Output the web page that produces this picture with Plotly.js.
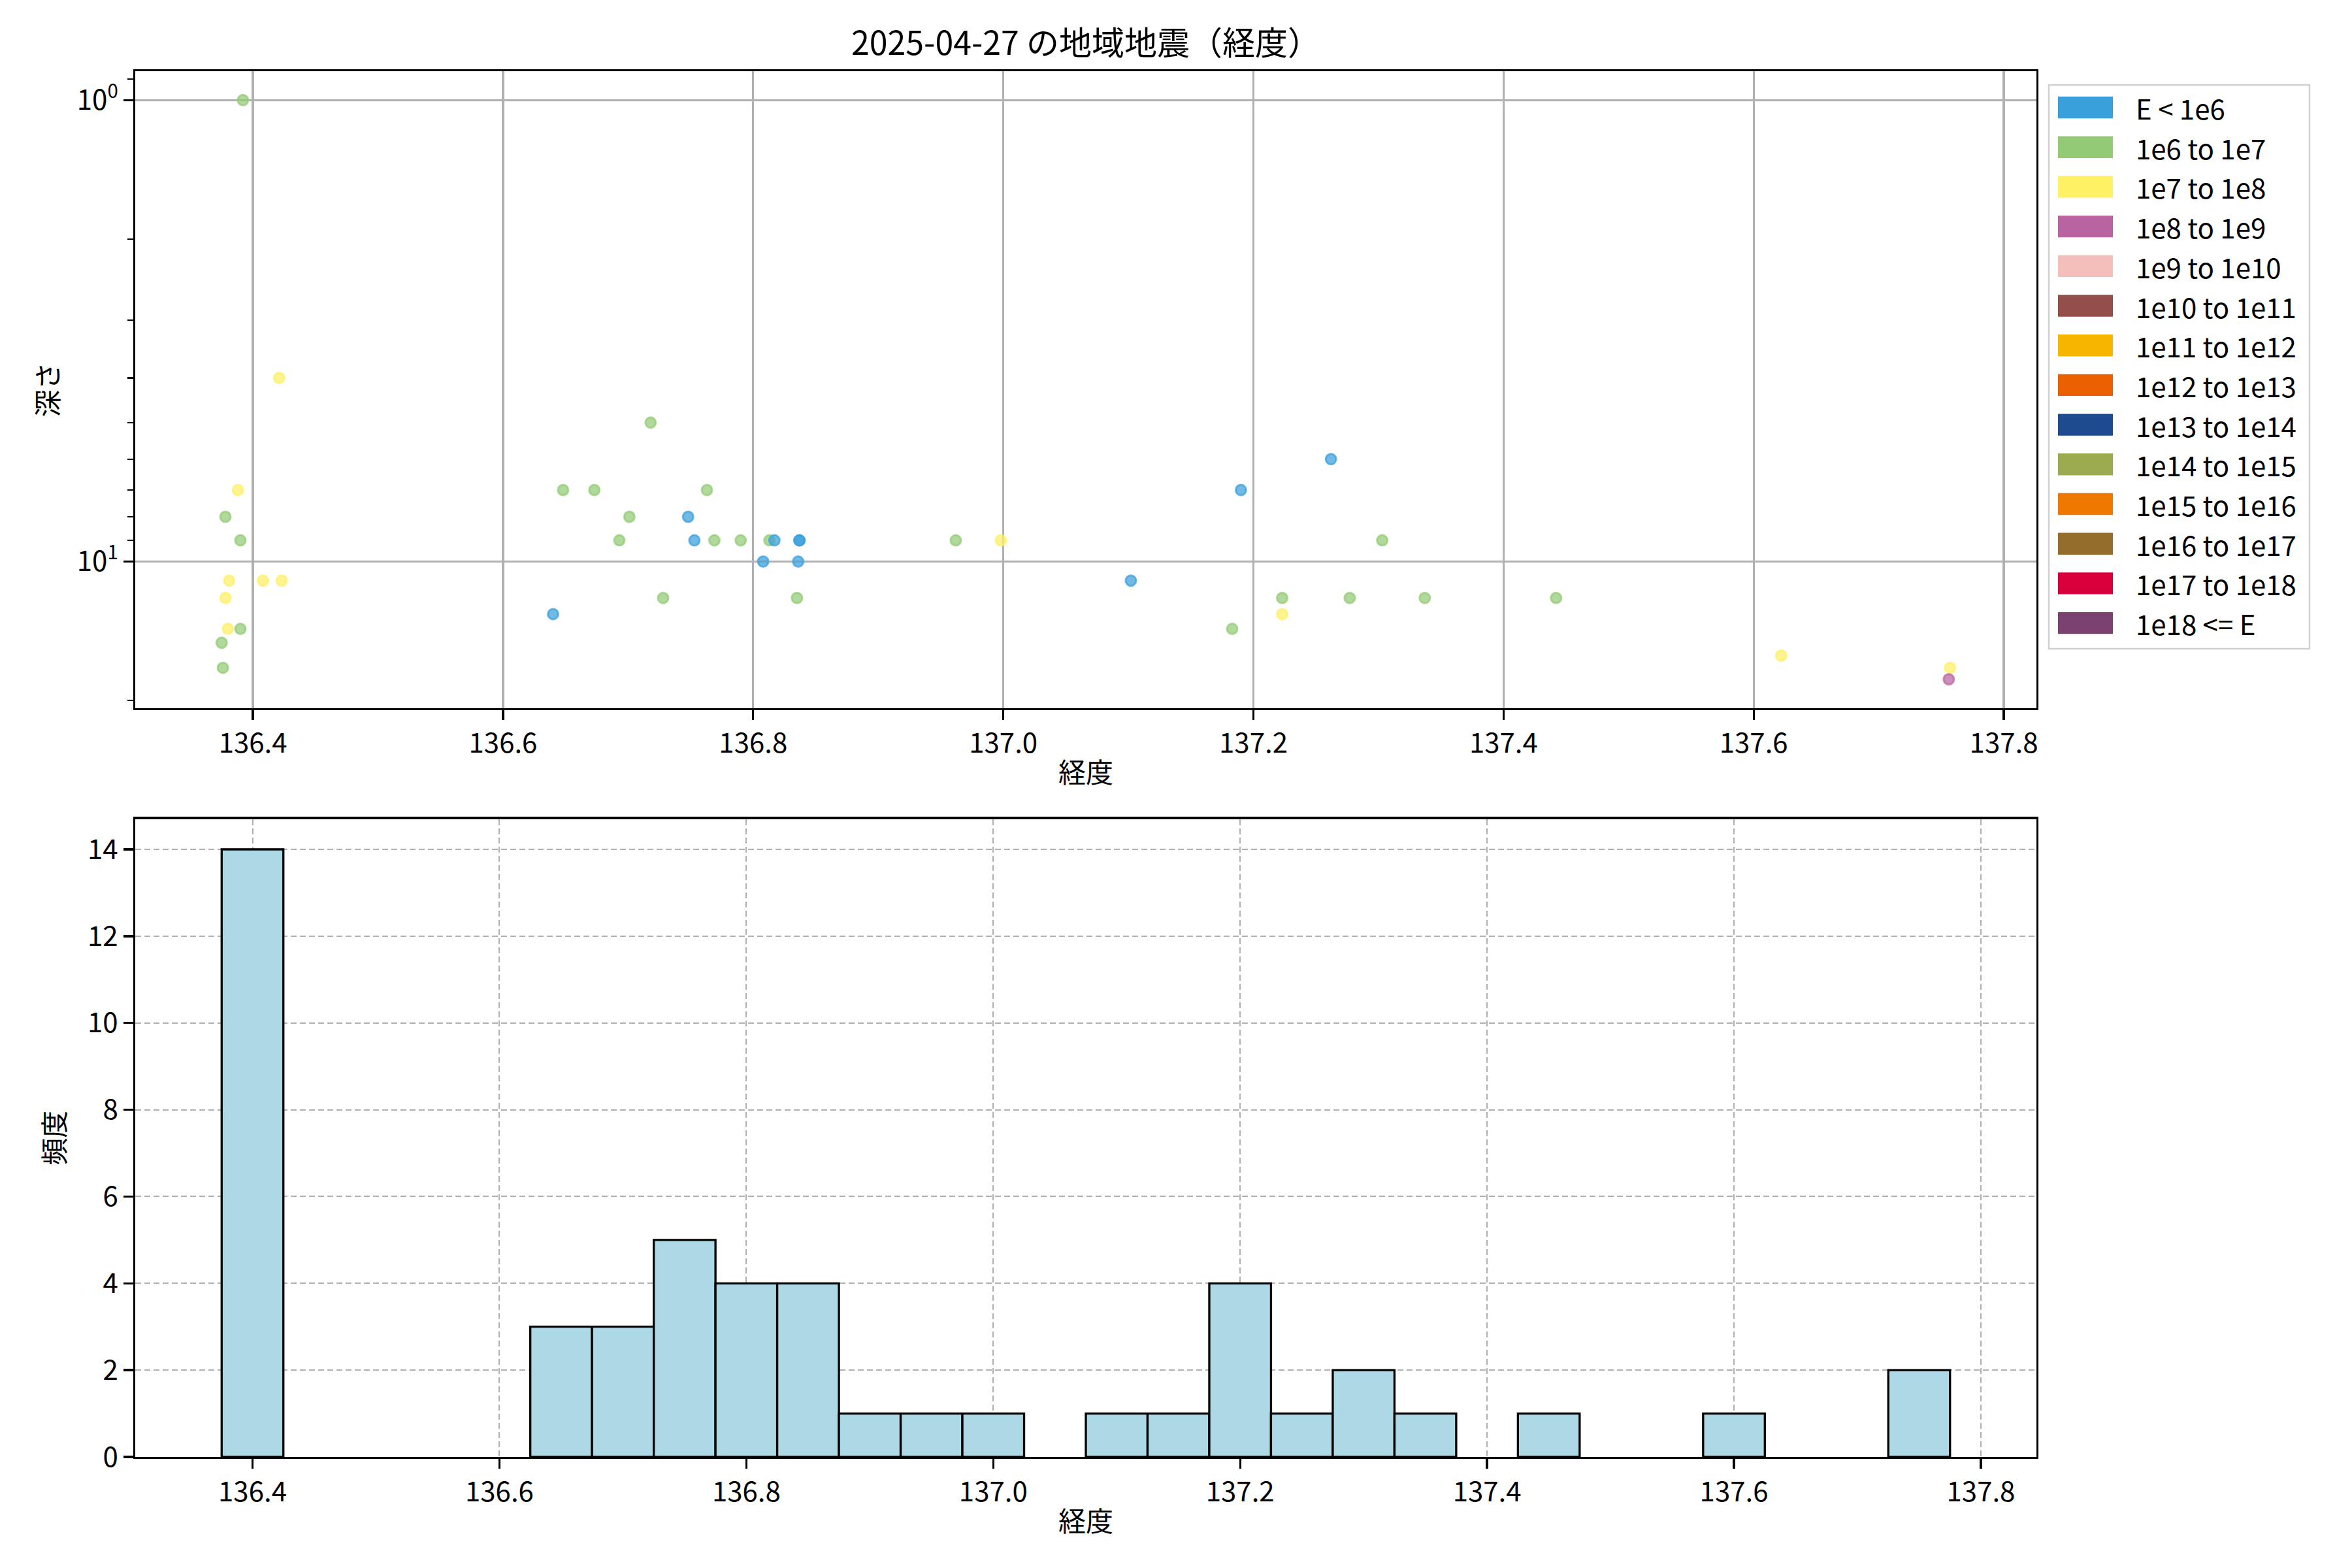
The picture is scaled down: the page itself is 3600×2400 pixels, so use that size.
<!DOCTYPE html>
<html>
<head>
<meta charset="utf-8">
<script src="https://cdn.plot.ly/plotly-3.0.1.min.js"></script>
<style>html,body{margin:0;padding:0;background:#fff;}</style>
</head>
<body>
<div id="chart" style="width:3600px;height:2400px;"></div>
<script>
// ---------- data ----------
const titleText = '2025-04-27 の地域地震（経度）';
const xTitle = '経度';
const depthTitle = '深さ';
const freqTitle = '頻度';

const classLabels = ['E < 1e6', '1e6 to 1e7', '1e7 to 1e8', '1e8 to 1e9', '1e9 to 1e10',
  '1e10 to 1e11', '1e11 to 1e12', '1e12 to 1e13', '1e13 to 1e14', '1e14 to 1e15',
  '1e15 to 1e16', '1e16 to 1e17', '1e17 to 1e18', '1e18 <= E'];
const classColors = ['#3AA0DC', '#93CA76', '#FFF064', '#B964A0', '#F4BFBB',
  '#954F4B', '#F8B500', '#EB6101', '#1E4A8F', '#9CAB4F',
  '#EE7800', '#946C2C', '#D7003A', '#7A4171'];

// longitude of each quake
const longitude = [
  136.392, 136.421, 136.388, 136.378, 136.390, 136.381, 136.408, 136.423, 136.378, 136.380,
  136.390, 136.375, 136.376, 136.400,
  136.640, 136.648, 136.673, 136.701, 136.693, 136.718, 136.728, 136.748, 136.753, 136.763,
  136.769, 136.790, 136.813, 136.817, 136.808, 136.837, 136.837, 136.836, 136.835, 136.900,
  136.962, 136.998, 137.102, 137.150, 137.190, 137.183, 137.223, 137.223, 137.262, 137.303,
  137.277, 137.337, 137.442, 137.622, 137.757, 137.756
];
// depth (km); 0 = not shown on the log axis
const depth = [
  1, 4, 7, 8, 9, 11, 11, 11, 12, 14,
  14, 15, 17, 0,
  13, 7, 7, 8, 9, 5, 12, 8, 9, 7,
  9, 9, 9, 9, 10, 9, 9, 10, 12, 0,
  9, 9, 11, 0, 7, 14, 12, 13, 6, 9,
  12, 12, 12, 16, 17, 18
];
// energy class index (into classLabels)
const energyClass = [
  1, 2, 2, 1, 1, 2, 2, 2, 2, 2,
  1, 1, 1, 1,
  0, 1, 1, 1, 1, 1, 1, 0, 0, 1,
  1, 1, 1, 0, 0, 0, 0, 0, 1, 1,
  1, 2, 0, 1, 0, 1, 1, 2, 0, 1,
  1, 1, 1, 2, 2, 3
];
const binWidth = 0.05;

// ---------- helpers ----------
function rgba(hex, a) {
  const n = parseInt(hex.slice(1), 16);
  return 'rgba(' + ((n >> 16) & 255) + ',' + ((n >> 8) & 255) + ',' + (n & 255) + ',' + a + ')';
}
const W = 3600, H = 2400;
const M = {l: 207, r: 483, t: 109, b: 170};
const PW = W - M.l - M.r, PH = H - M.t - M.b;
const px2x = p => (p - M.l) / PW;
const py2y = p => (H - M.b - p) / PH;

const FONT = '"Noto Sans CJK JP", "Noto Sans", sans-serif';
const LW = 3.3;

// ranges derived from data (matplotlib-like 5% margins)
const lonMin = Math.min(...longitude), lonMax = Math.max(...longitude);
const lonSpan = lonMax - lonMin;
const xRangeTop = [lonMin - 0.05 * lonSpan, lonMax + 0.05 * lonSpan];
const posDepth = depth.filter(d => d > 0);
const lMin = Math.log10(Math.min(...posDepth)), lMax = Math.log10(Math.max(...posDepth));
const lSpan = lMax - lMin;
const yRangeTop = [lMax + 0.05 * lSpan, lMin - 0.05 * lSpan];

const nBins = Math.floor((lonMax + binWidth - lonMin) / binWidth + 1e-9);
const binEnd = lonMin + nBins * binWidth;
const binCounts = new Array(nBins).fill(0);
longitude.forEach(v => { let k = Math.floor((v - lonMin) / binWidth + 1e-9); if (k >= nBins) k = nBins - 1; binCounts[k]++; });
const maxCount = Math.max(...binCounts);
const hSpan = binEnd - lonMin;
const xRangeBot = [lonMin - 0.05 * hSpan, binEnd + 0.05 * hSpan];

// ---------- traces ----------
const scatter = {
  type: 'scatter', mode: 'markers', x: longitude, y: depth, xaxis: 'x', yaxis: 'y',
  showlegend: false, hoverinfo: 'x+y',
  marker: {
    size: 16,
    color: energyClass.map(c => rgba(classColors[c], 0.72)),
    line: {width: 3, color: energyClass.map(c => rgba(classColors[c], 0.72))}
  }
};
const hist = {
  type: 'histogram', x: longitude, xaxis: 'x2', yaxis: 'y2', showlegend: false,
  xbins: {start: lonMin, end: binEnd, size: binWidth},
  marker: {color: '#ADD8E6', line: {color: 'black', width: LW}}
};

// ---------- layout ----------
const axisCommon = {
  showline: true, linecolor: 'black', linewidth: LW, mirror: true,
  ticks: 'outside', ticklen: 14.6, tickwidth: LW, tickcolor: 'black',
  tickfont: {size: 42, color: 'black', family: FONT}, zeroline: false, automargin: false
};

const shapes = [];
const annotations = [];
// legend box
const lgL = 3136, lgR = 3535, lgT = 130, lgB = 993;
shapes.push({type: 'rect', xref: 'paper', yref: 'paper', x0: px2x(lgL), x1: px2x(lgR), y0: py2y(lgB), y1: py2y(lgT),
  fillcolor: 'rgba(255,255,255,0.8)', line: {color: '#d0d0d0', width: 2.5}, layer: 'above'});
classLabels.forEach((lab, i) => {
  const yc = 164.5 + 60.7 * i;
  shapes.push({type: 'rect', xref: 'paper', yref: 'paper', x0: px2x(3150), x1: px2x(3234),
    y0: py2y(yc + 16.7), y1: py2y(yc - 16.7), fillcolor: classColors[i], line: {width: 0}, layer: 'above'});
  annotations.push({xref: 'paper', yref: 'paper', x: px2x(3267), y: py2y(yc), xanchor: 'left', yanchor: 'middle',
    text: lab, showarrow: false, font: {size: 42, color: 'black', family: FONT}});
});

const layout = {
  width: W, height: H, margin: M, paper_bgcolor: 'white', plot_bgcolor: 'white',
  font: {family: FONT, color: 'black', size: 42},
  showlegend: false, bargap: 0,
  title: {text: titleText, font: {size: 50, family: FONT, color: 'black'}, x: 0.5, xref: 'paper',
    y: 1 - 66 / H, yref: 'container', yanchor: 'middle', xanchor: 'center'},
  xaxis: Object.assign({}, axisCommon, {
    domain: [0, 1], anchor: 'y', range: xRangeTop, dtick: 0.2, tick0: 0, tickformat: '.1f',
    showgrid: true, gridcolor: '#b0b0b0', gridwidth: LW,
    title: {text: xTitle, font: {size: 42, family: FONT}, standoff: 6}
  }),
  yaxis: Object.assign({}, axisCommon, {
    domain: [py2y(1084), 1], anchor: 'x', type: 'log', range: yRangeTop,
    tickmode: 'array', tickvals: [1, 10], ticktext: ['10<sup>0</sup>', '10<sup>1</sup>'],
    showgrid: true, gridcolor: '#b0b0b0', gridwidth: LW,
    minor: {tickmode: 'array', tickvals: [0.9, 2, 3, 4, 5, 6, 7, 8, 9, 20], ticks: 'outside',
      ticklen: 8.3, tickwidth: 2.5, tickcolor: 'black', showgrid: false},
    title: {text: depthTitle, font: {size: 42, family: FONT}, standoff: 16}
  }),
  xaxis2: Object.assign({}, axisCommon, {
    domain: [0, 1], anchor: 'y2', range: xRangeBot, dtick: 0.2, tick0: 0, tickformat: '.1f',
    showgrid: true, gridcolor: '#b0b0b0', gridwidth: 2, griddash: '9px,5px',
    title: {text: xTitle, font: {size: 42, family: FONT}, standoff: 6}
  }),
  yaxis2: Object.assign({}, axisCommon, {
    domain: [0, py2y(1253.5)], anchor: 'x2', range: [0, maxCount * 1.05], dtick: 2, tick0: 0,
    showgrid: true, gridcolor: '#b0b0b0', gridwidth: 2, griddash: '9px,5px',
    title: {text: freqTitle, font: {size: 42, family: FONT}, standoff: 22}
  }),
  shapes: shapes,
  annotations: annotations
};

Plotly.newPlot('chart', [hist, scatter], layout, {displayModeBar: false, staticPlot: true});
</script>
</body>
</html>
